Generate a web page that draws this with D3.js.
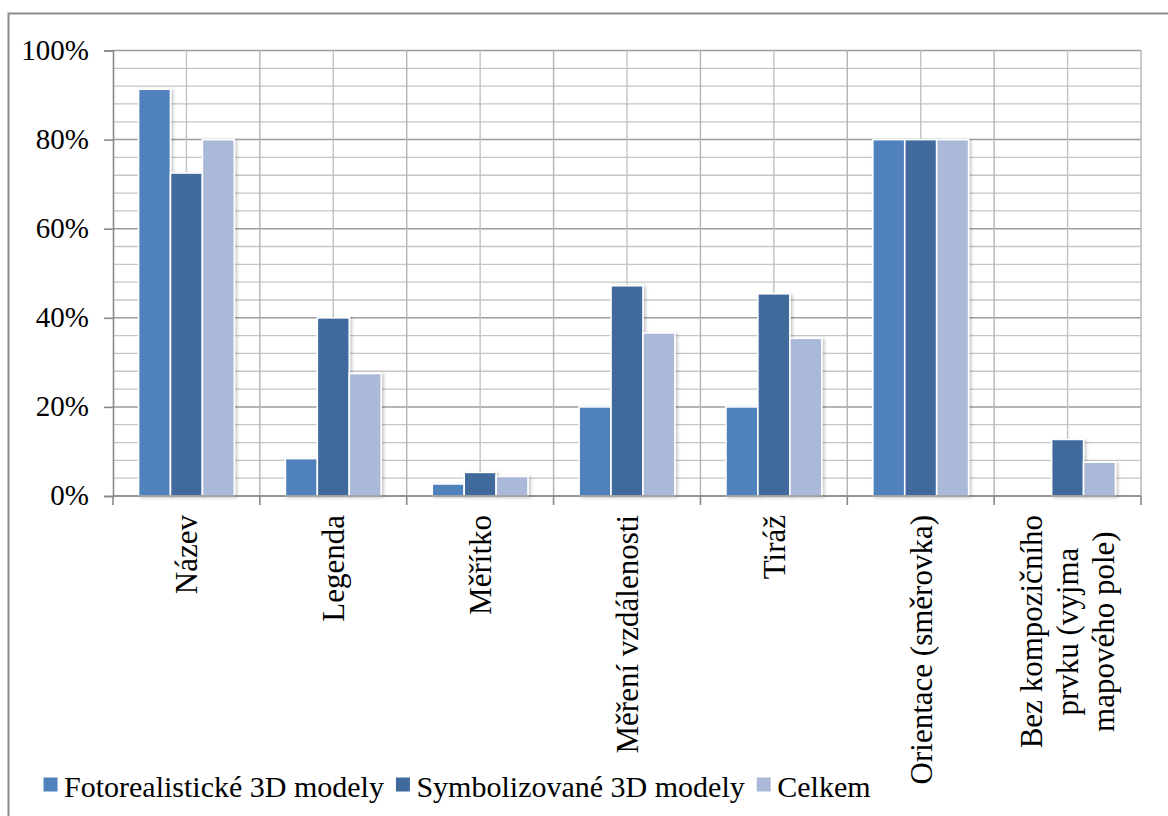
<!DOCTYPE html>
<html>
<head>
<meta charset="utf-8">
<script src="https://cdn.jsdelivr.net/npm/d3@7"></script>
</head>
<body style="margin:0">
<svg id="chart" width="1168" height="816" font-family="Liberation Serif"></svg>
<script>
// Categories (line breaks mark wrapped axis labels)
const categories = [
  "Název",
  "Legenda",
  "Měřítko",
  "Měření vzdálenosti",
  "Tiráž",
  "Orientace (směrovka)",
  "Bez kompozičního\nprvku (vyjma\nmapového pole)"
];
const seriesNames = ["Fotorealistické 3D modely", "Symbolizované 3D modely", "Celkem"];
const seriesColors = ["#4f81bd", "#406a9c", "#aab9d7"];

const fotorealisticke = [0.913, 0.084, 0.027, 0.200, 0.200, 0.800, 0.000];
const symbolizovane   = [0.725, 0.400, 0.053, 0.472, 0.454, 0.800, 0.127];
const celkem          = [0.800, 0.275, 0.044, 0.366, 0.354, 0.800, 0.076];

const seriesValues = [fotorealisticke, symbolizovane, celkem];
const yTicks = [0, 0.2, 0.4, 0.6, 0.8, 1.0];
const yMinorStep = 0.04;

const FONT = "Liberation Serif";

const svg = d3.select("#chart");

// shadow under bars
const defs = svg.append("defs");
const f = defs.append("filter").attr("id", "shadow")
  .attr("x", "-20%").attr("y", "-10%").attr("width", "150%").attr("height", "130%");
f.append("feDropShadow").attr("dx", 2).attr("dy", 1).attr("stdDeviation", 1.6)
  .attr("flood-color", "#000").attr("flood-opacity", 0.22);

// outer frame
svg.append("rect")
  .attr("x", 8.5).attr("y", 13.5).attr("width", 1300).attr("height", 1000)
  .attr("fill", "none").attr("stroke", "#8c8c8c").attr("stroke-width", 2);

const plot = { left: 113, right: 1141, top: 50.5, bottom: 496 };

const x = d3.scaleBand().domain(categories).range([plot.left, plot.right]);
const xSub = d3.scaleBand().domain(d3.range(seriesNames.length))
  .range([0, x.bandwidth()]).paddingInner(0).paddingOuter(0.8);
const y = d3.scaleLinear().domain([0, 1]).range([plot.bottom, plot.top]);

// horizontal gridlines (minor every 4 %, major every 20 %)
const grid = svg.append("g");
d3.range(0, 1 + 1e-9, yMinorStep).forEach(v => {
  const isMajor = yTicks.some(t => Math.abs(t - v) < 1e-6);
  grid.append("line")
    .attr("x1", plot.left).attr("x2", plot.right)
    .attr("y1", y(v)).attr("y2", y(v))
    .attr("stroke", isMajor ? "#9d9d9d" : "#c6c6c6")
    .attr("stroke-width", isMajor ? 1.5 : 1.3);
});
// vertical gridlines at category edges and centres
categories.forEach((c, i) => {
  [x(c), x(c) + x.bandwidth() / 2].forEach((xx, j) => {
    if (i === 0 && j === 0) return;
    grid.append("line")
      .attr("x1", xx).attr("x2", xx)
      .attr("y1", plot.top).attr("y2", plot.bottom)
      .attr("stroke", j === 0 ? "#b4b4b4" : "#c2c2c2")
      .attr("stroke-width", 1.4);
  });
});
grid.append("line")
  .attr("x1", plot.right).attr("x2", plot.right)
  .attr("y1", plot.top).attr("y2", plot.bottom)
  .attr("stroke", "#b4b4b4").attr("stroke-width", 1.4);

// bars
const groups = svg.append("g").selectAll("g")
  .data(categories).join("g")
  .attr("transform", c => `translate(${x(c)},0)`);
groups.selectAll("rect")
  .data((c, ci) => seriesValues.map((vals, si) => ({ si, v: vals[ci] })).filter(d => d.v > 0))
  .join("rect")
  .attr("x", d => xSub(d.si))
  .attr("width", xSub.bandwidth())
  .attr("y", d => y(d.v))
  .attr("height", d => y(0) - y(d.v))
  .attr("fill", d => seriesColors[d.si])
  .attr("stroke", "#fff").attr("stroke-width", 1.6)
  .attr("filter", "url(#shadow)");

// y axis
const yAxis = svg.append("g")
  .attr("transform", `translate(${plot.left},0)`)
  .call(d3.axisLeft(y).tickValues(yTicks).tickFormat(d3.format(".0%")).tickSize(9).tickPadding(15));
yAxis.attr("font-family", FONT).attr("font-size", 29);
yAxis.select(".domain").attr("stroke", "#8a8a8a").attr("stroke-width", 1.6);
yAxis.selectAll(".tick line").attr("stroke", "#8a8a8a").attr("stroke-width", 1.6);
yAxis.selectAll(".tick text")
  .attr("dy", "0.3em").attr("fill", "#000");

// x axis line and boundary ticks
const xAxisG = svg.append("g");
xAxisG.append("line")
  .attr("x1", plot.left).attr("x2", plot.right)
  .attr("y1", plot.bottom).attr("y2", plot.bottom)
  .attr("stroke", "#8a8a8a").attr("stroke-width", 1.6);
categories.concat([null]).forEach(c => {
  const xx = c === null ? plot.right : x(c);
  xAxisG.append("line")
    .attr("x1", xx).attr("x2", xx)
    .attr("y1", plot.bottom).attr("y2", plot.bottom + 9)
    .attr("stroke", "#8a8a8a").attr("stroke-width", 1.6);
});

// rotated category labels
const labelTop = 515;
const lineGap = 36;
categories.forEach(c => {
  const lines = c.split("\n");
  const cx = x(c) + x.bandwidth() / 2;
  const g = svg.append("g").attr("font-size", 31);
  const texts = lines.map(ln => g.append("text")
    .attr("fill", "#000")
    .attr("text-anchor", lines.length > 1 ? "middle" : "end")
    .attr("dy", "0.35em")
    .text(ln));
  if (lines.length === 1) {
    texts[0].attr("transform", `translate(${cx},${labelTop}) rotate(-90)`);
  } else {
    const maxLen = d3.max(texts, t => t.node().getComputedTextLength());
    const mid = labelTop + maxLen / 2;
    texts.forEach((t, i) => {
      const off = (i - (lines.length - 1) / 2) * lineGap;
      t.attr("transform", `translate(${cx + off},${mid}) rotate(-90)`);
    });
  }
});

// legend
const legend = svg.append("g").attr("font-size", 30);
let lx = 43.5;
const ly = 797;
seriesNames.forEach((name, i) => {
  legend.append("rect")
    .attr("x", lx).attr("y", ly - 19.5).attr("width", 14).attr("height", 14)
    .attr("fill", seriesColors[i]);
  const t = legend.append("text")
    .attr("x", lx + 20.5).attr("y", ly)
    .attr("fill", "#000")
    .text(name);
  lx += 20.5 + t.node().getComputedTextLength() + 12;
});
</script>
</body>
</html>
